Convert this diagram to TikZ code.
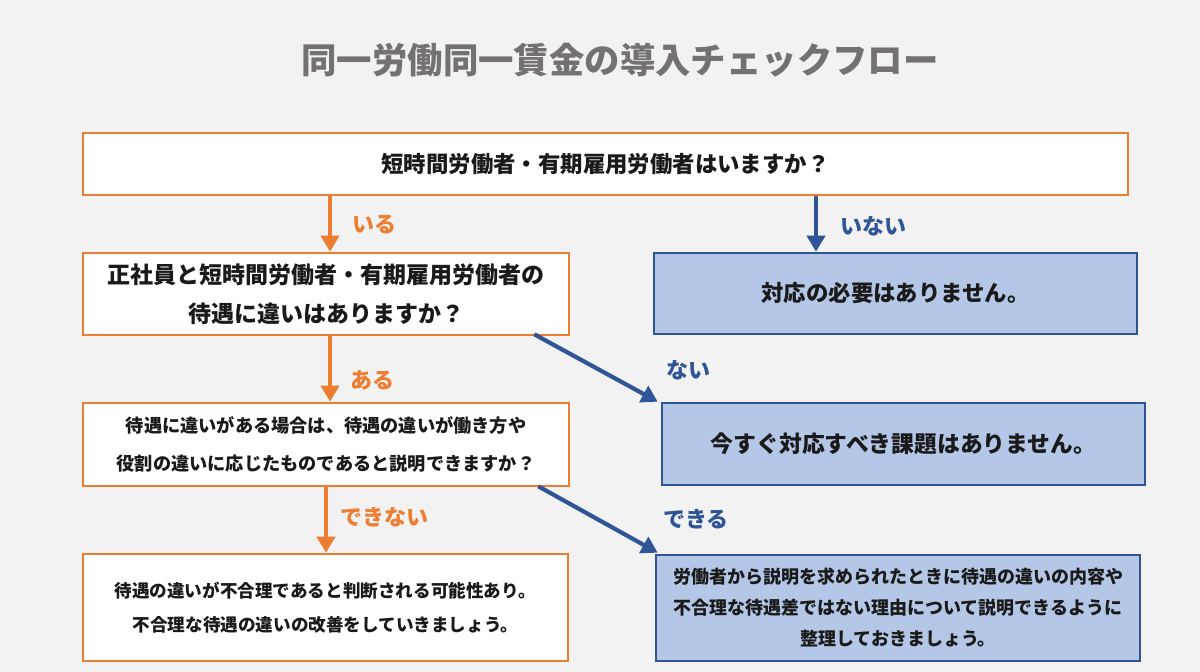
\documentclass[tikz,border=0pt]{standalone}
\usepackage{fontspec}
\setmainfont{Noto Sans CJK JP}
\usetikzlibrary{arrows.meta,calc}
\definecolor{bg}{HTML}{F2F2F2}
\definecolor{org}{HTML}{ED7D31}
\definecolor{blu}{HTML}{2F5597}
\definecolor{lblu}{HTML}{B4C7E7}
\definecolor{ttl}{HTML}{767171}
\definecolor{txt}{HTML}{1A1A1A}
\begin{document}
\begin{tikzpicture}[x=0.5pt,y=-0.5pt,
  obox/.style={draw=org, fill=white, line width=1.3pt, inner sep=0pt, align=center, text=txt},
  bbox/.style={draw=blu, fill=lblu, line width=1.3pt, inner sep=0pt, align=center, text=txt},
  oarr/.style={draw=org, line width=2.1pt, -{Triangle[length=8pt,width=9pt]}},
  barr/.style={draw=blu, line width=2.1pt, -{Triangle[length=8pt,width=9pt]}},
  olbl/.style={text=org, font=\fontsize{11}{13}\selectfont\bfseries},
  blbl/.style={text=blu, font=\fontsize{11}{13}\selectfont\bfseries},
  big/.style={font=\fontsize{11.2}{19.5}\selectfont\bfseries},
]
\fill[bg] (0,0) rectangle (1200,672);
\useasboundingbox (0,0) rectangle (1200,672);

\node[font=\fontsize{17.7}{21}\selectfont\bfseries, text=ttl] (title) at (620,60) {同一労働同一賃金の導入チェックフロー};

\node[obox, big, minimum width=522.5pt, minimum height=31pt] (b1) at (605.5,164) {短時間労働者・有期雇用労働者はいますか？};
\node[obox, font=\fontsize{11.5}{19.5}\selectfont\bfseries, minimum width=243pt, minimum height=41pt] (b2) at (326,294) {正社員と短時間労働者・有期雇用労働者の\\待遇に違いはありますか？};
\node[bbox, big, minimum width=241.5pt, minimum height=40.5pt] (b3) at (895.5,293.5) {対応の必要はありません。};
\node[obox, font=\fontsize{9.1}{19}\selectfont\bfseries, minimum width=243pt, minimum height=41.5pt] (b4) at (326,444.5) {待遇に違いがある場合は、待遇の違いが働き方や\\役割の違いに応じたものであると説明できますか？};
\node[bbox, font=\fontsize{11.4}{19.5}\selectfont\bfseries, minimum width=241.5pt, minimum height=41pt] (b5) at (903.5,444) {今すぐ対応すべき課題はありません。};
\node[obox, font=\fontsize{8.8}{17}\selectfont\bfseries, minimum width=242.5pt, minimum height=53.5pt] (b6) at (325.5,607.5) {待遇の違いが不合理であると判断される可能性あり。\\不合理な待遇の違いの改善をしていきましょう。};
\node[bbox, font=\fontsize{9}{15.5}\selectfont\bfseries, minimum width=242pt, minimum height=53pt] (b7) at (898,608) {労働者から説明を求められたときに待遇の違いの内容や\\不合理な待遇差ではない理由について説明できるように\\整理しておきましょう。};

\coordinate (xa) at (330,0);
\coordinate (xb) at (816,0);
\coordinate (xd) at (326,0);
\draw[oarr] (xa |- b1.south) -- (xa |- b2.north);
\draw[barr] (xb |- b1.south) -- (xb |- b3.north);
\draw[oarr] (xa |- b2.south) -- (xa |- b4.north);
\draw[oarr] (xd |- b4.south) -- (xd |- b6.north);
\draw[barr] ($(b2.south east)+(-36,-2)$) -- ($(b5.north west)+(-3,0)$);
\draw[barr] ($(b4.south east)+(-32,-1)$) -- ($(b7.north west)+(3,-1)$);

\node[olbl] (l1) at (374,225) {いる};
\node[blbl] (l2) at (873,226) {いない};
\node[olbl] (l3) at (372,380) {ある};
\node[blbl] (l4) at (688,370) {ない};
\node[olbl] (l5) at (384,517) {できない};
\node[blbl] (l6) at (696,519) {できる};
\end{tikzpicture}
\end{document}
